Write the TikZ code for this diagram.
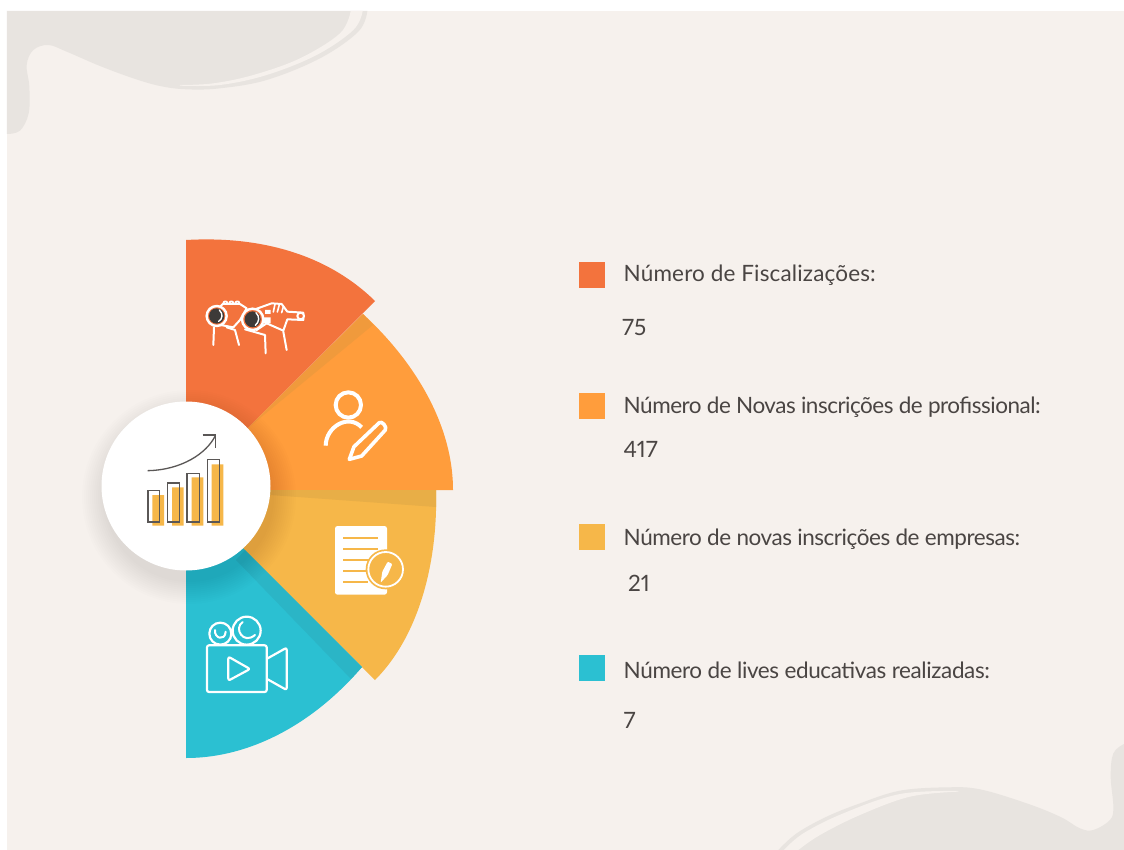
\documentclass[tikz,border=0pt]{standalone}
\usepackage{fontspec}
\setmainfont[Numbers=Proportional]{Lato}
\usetikzlibrary{calc}
\definecolor{bgc}{HTML}{F6F1ED}
\definecolor{blob}{HTML}{E8E4E0}
\definecolor{c1}{HTML}{F3733D}
\definecolor{c2}{HTML}{FF9D3C}
\definecolor{c3}{HTML}{F6B749}
\definecolor{c4}{HTML}{2BC0D2}
\definecolor{b2}{HTML}{F09A3C}
\definecolor{b3}{HTML}{E8AE47}
\definecolor{b4}{HTML}{2BB5C6}
\definecolor{txt}{HTML}{4A4543}
\definecolor{dk}{HTML}{3D3A38}
\definecolor{gl}{HTML}{5A5756}
\tikzset{
 legsq/.style={minimum size=26pt,inner sep=0pt,anchor=north west},
 legtx/.style={anchor=base west,inner sep=0pt,text=txt,font=\fontsize{22.5}{24}\selectfont},
 wl/.style={draw=white,line width=#1,line cap=round,line join=round},
 wl/.default=1.5pt,
 zoomed/.style args={#1,#2}{shift={(#1,#2)},x=0.33333pt,y=-0.33333pt},
}
\newcommand{\ls}[2]{\addfontfeature{LetterSpace=#1}#2}
\begin{document}
\begin{tikzpicture}[x=1pt,y=-1pt]
\useasboundingbox (0,0) rectangle (1124,850);
\fill[white] (0,0) rectangle (1124,850);
\fill[bgc] (7,11) rectangle (1124,850);
% top-left blob
\begin{scope}[zoomed={0,0}]
\fill[blob] (21,402) -- (21,33) -- plot[smooth,tension=.6] coordinates {(1102,33) (1075,95) (960,175) (800,240) (660,265) (560,268) (480,258) (400,235) (300,198) (200,155) (145,135) (100,150) (80,195) (88,260) (86,340) (60,392) (21,402)} -- cycle;
\fill[bgc] plot[smooth,tension=.6] coordinates {(1088,33) (1060,90) (950,165) (800,225) (660,255) (540,257)} -- plot[smooth,tension=.6] coordinates {(540,255) (640,250) (760,225) (900,175) (1020,100) (1052,33)} -- cycle;
\end{scope}
% bottom-right blob
\begin{scope}[zoomed={760,730}]
\fill[blob] plot[smooth,tension=.6] coordinates {(55,360) (110,310) (200,260) (300,220) (420,182) (560,172) (660,178) (800,220) (900,260) (960,295) (1000,300) (1050,270) (1060,230) (1052,140) (1060,70) (1092,42)} -- (1092,360) -- cycle;
\fill[bgc] plot[smooth,tension=.6] coordinates {(72,360) (130,310) (250,250) (420,192) (595,183)} -- plot[smooth,tension=.6] coordinates {(595,185) (450,200) (300,255) (180,315) (115,360)} -- cycle;
\end{scope}
% wedges
\fill[c1] (186,240) .. controls (256,236) and (325,252) .. (375,301) -- (240,436) -- (186,440) -- cycle;
\fill[c2] (363,314) .. controls (415,362) and (453,425) .. (453,490) -- (240,490) -- (240,436) -- cycle;
\fill[b2] (363,314) -- (373,325) -- (248,428) -- cycle;
\fill[c3] (436,490) .. controls (438,560) and (420,635) .. (375,680) -- (230,536) -- (240,490) -- cycle;
\fill[b3] (436,490) -- (436,507) -- (270,495) -- (240,490) -- cycle;
\fill[c4] (186,758) .. controls (252,758) and (315,722) .. (362,667) -- (240,545) -- (186,540) -- cycle;
\fill[b4] (362,667) -- (351,679) -- (236,560) -- (245,550) -- cycle;
% shadow and hub
\foreach \r in {85,87,...,107}{\fill[black,opacity=.007] (189,497) circle (\r);}
\node[circle,fill=white,minimum size=169pt,inner sep=0pt] (hub) at (186,486) {};
% chart icon
\begin{scope}[zoomed={135,425}]
\fill[c3] (52,210) rectangle (87,302) (111,187) rectangle (146,302) (170,157) rectangle (205,302) (230,118) rectangle (265,302);
\draw[gl,line width=1.6pt] (39,196) rectangle (74,291) (97,174) rectangle (134,291) (156,145) rectangle (194,291) (217,104) rectangle (254,291);
\draw[gl,line width=1.3pt] (38,137) .. controls (140,135) and (215,85) .. (241,32);
\draw[gl,line width=1.3pt] (203,30) -- (241,30) -- (241,68);
\end{scope}
% binoculars icon
\begin{scope}[zoomed={200,290}]
\draw[wl=2pt] (42,112) -- (40,165) (80,112) -- (105,120) -- (117,165);
\draw[wl=2pt,fill=c1] (60,50) -- (68,42) -- (120,42) -- (140,55) -- (120,90) -- (100,112) -- (62,105) -- cycle;
\draw[wl=1.8pt] (70,40) arc[start angle=180,end angle=360,radius=6] (88,40) arc[start angle=180,end angle=360,radius=6] (106,40) arc[start angle=180,end angle=360,radius=6];
\draw[wl=2.4pt,fill=c1] (50,78) circle (30);
\fill[dk] (50,78) circle (23);
\draw[wl=1.4pt] (58,60) .. controls (70,72) and (68,86) .. (56,94);
\draw[wl=2pt,fill=c1] (165,58) -- (215,40) -- (245,42) -- (262,65) -- (310,68) -- (310,90) -- (262,88) -- (250,122) -- (200,100) -- (170,120) -- cycle;
\draw[wl=1.6pt] (225,42) -- (220,66) (238,44) -- (232,66) (250,50) -- (245,68);
\fill[white] (192,100) rectangle (212,82) (195,72) rectangle (212,60);
\draw[wl=2.4pt,fill=c1] (158,88) circle (32);
\fill[dk] (158,88) circle (24);
\draw[wl=1.4pt] (168,68) .. controls (180,80) and (178,96) .. (166,106);
\draw[wl=2pt] (135,118) -- (195,135) -- (197,190) (250,125) -- (260,180);
\draw[wl=2pt,fill=c1] (302,78) circle (10);
\end{scope}
% person icon
\begin{scope}[zoomed={90,230}]
\draw[wl=4pt] (775,525) circle (38);
\draw[wl=4pt,line cap=butt] (707,647) .. controls (708,590) and (775,550) .. (815,592);
\draw[wl=3.6pt] (778,688) -- (792,650) -- (868,578) .. controls (875,572) and (892,590) .. (886,600) -- (815,678) -- cycle;
\end{scope}
% document icon
\begin{scope}[zoomed={325,520}]
\fill[white,rounded corners=2.5pt] (30,18) rectangle (186,224);
\draw[c3,line width=2pt] (55,55) -- (160,55) (55,88) -- (160,88) (55,120) -- (135,120) (55,152) -- (125,152) (55,185) -- (130,185);
\fill[c3] (182,148) circle (60);
\draw[white,line width=1.8pt] (182,148) circle (52);
\fill[white,rounded corners=1pt] (167,188) -- (172,155) -- (188,125) -- (202,132) -- (188,165) -- cycle;
\end{scope}
% camera icon
\begin{scope}[zoomed={90,490}]
\draw[wl=2.2pt] (391,431) circle (33) (470,422) circle (42);
\draw[wl=2pt] (375,420) .. controls (372,445) and (405,455) .. (407,425);
\draw[wl=2pt] (458,396) .. controls (430,415) and (460,465) .. (495,435);
\draw[wl=2.2pt,fill=c4,rounded corners=2pt] (351,466) rectangle (530,606);
\draw[wl=2.2pt,rounded corners=2pt] (415,500) -- (480,537) -- (415,572) -- cycle;
\draw[wl=2.2pt,rounded corners=2pt] (533,505) -- (590,473) -- (590,600) -- (533,568);
\end{scope}
% legend
\node[legsq,fill=c1] (s1) at (578.8,261.7) {};
\node[legsq,fill=c2] (s2) at (578.8,392.7) {};
\node[legsq,fill=c3] (s3) at (578.8,523.5) {};
\node[legsq,fill=c4] (s4) at (578.8,654.5) {};
\node[legtx] (t1) at (623.5,282) {\ls{0.7}{Número de Fiscalizações:}};
\node[legtx] (v1) at (622,335) {75};
\node[legtx] (t2) at (623.5,413) {\ls{-2.2}{Número de Novas inscrições de profissional:}};
\node[legtx] (v2) at (623.5,457) {417};
\node[legtx] (t3) at (623.5,545) {\ls{-2.0}{Número de novas inscrições de empresas:}};
\node[legtx] (v3) at (628,591) {21};
\node[legtx] (t4) at (623.5,678) {\ls{-1.7}{Número de lives educativas realizadas:}};
\node[legtx] (v4) at (623.5,728) {7};
\end{tikzpicture}
\end{document}
